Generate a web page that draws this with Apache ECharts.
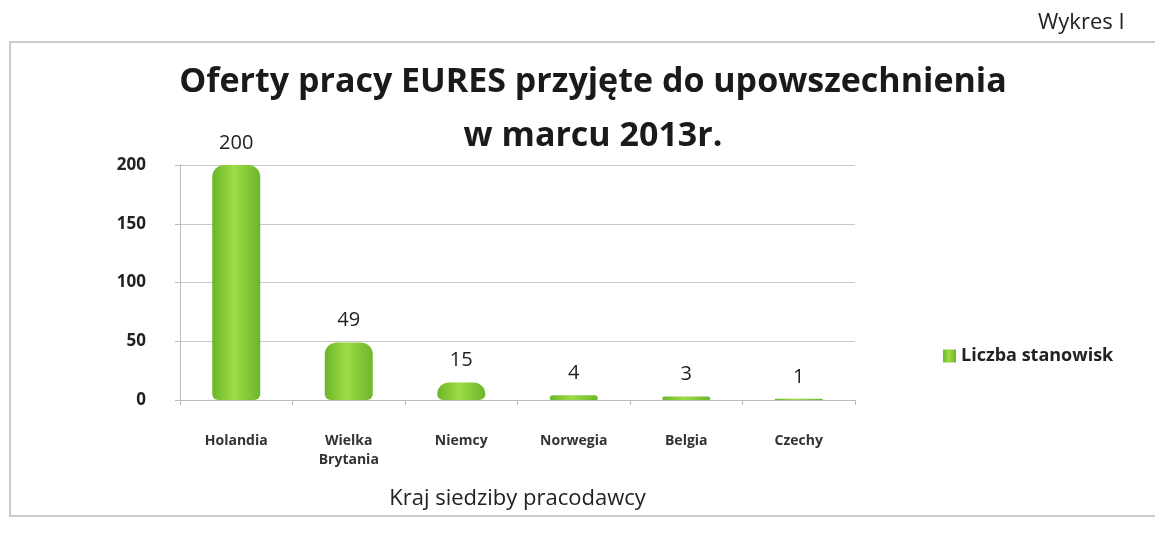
<!DOCTYPE html>
<html>
<head>
<meta charset="utf-8">
<script src="https://cdn.jsdelivr.net/npm/echarts@6/dist/echarts.min.js"></script>
<style>
  html, body { margin: 0; padding: 0; background: #fff; }
  #chart { width: 1155px; height: 537px; }
</style>
</head>
<body>
<div id="chart"></div>
<script>
const categories = ['Holandia', 'Wielka\nBrytania', 'Niemcy', 'Norwegia', 'Belgia', 'Czechy'];
const counts = [200, 49, 15, 4, 3, 1];
const yTicks = [0, 50, 100, 150, 200];

const chart = echarts.init(document.getElementById('chart'));

// cylinder look: darker edges, lighter middle
const barColor = new echarts.graphic.LinearGradient(0, 0, 1, 0, [
  { offset: 0, color: '#6cb62a' },
  { offset: 0.45, color: '#9ddc45' },
  { offset: 1, color: '#6cb62a' }
]);

chart.setOption({
  animation: false,
  backgroundColor: '#fff',
  title: {
    text: 'Oferty pracy EURES przyjęte do upowszechnienia\nw marcu 2013r.',
    left: 588,
    top: 50,
    textAlign: 'center',
    textStyle: {
      fontFamily: 'Open Sans',
      fontSize: 34,
      fontWeight: 'bold',
      color: '#1a1a1a',
      lineHeight: 54
    }
  },
  legend: {
    data: ['Liczba stanowisk'],
    left: 938,
    top: 342,
    itemWidth: 13,
    itemHeight: 13,
    icon: 'rect',
    itemGap: 6,
    textStyle: { fontFamily: 'Open Sans', fontSize: 18, fontWeight: 'bold', color: '#222' }
  },
  grid: { left: 180, right: 300, top: 165, bottom: 137 },
  xAxis: {
    type: 'category',
    data: categories,
    name: 'Kraj siedziby pracodawcy',
    nameLocation: 'middle',
    nameGap: 88,
    nameTextStyle: { fontFamily: 'Open Sans', fontSize: 22, color: '#222' },
    axisLine: { lineStyle: { color: '#bbb' } },
    axisTick: { show: true, lineStyle: { color: '#bbb' } },
    axisLabel: {
      margin: 32,
      fontFamily: 'Open Sans',
      fontSize: 14,
      fontWeight: 'bold',
      color: '#333',
      lineHeight: 19
    }
  },
  yAxis: {
    type: 'value',
    min: yTicks[0],
    max: yTicks[yTicks.length - 1],
    interval: 50,
    axisLine: { show: true, lineStyle: { color: '#bbb' } },
    axisTick: { show: true, lineStyle: { color: '#bbb' } },
    splitLine: { lineStyle: { color: '#c8c8c8' } },
    axisLabel: {
      margin: 34,
      fontFamily: 'Open Sans',
      fontSize: 17,
      fontWeight: 'bold',
      color: '#222'
    }
  },
  series: [{
    name: 'Liczba stanowisk',
    type: 'bar',
    data: counts,
    barWidth: 48,
    itemStyle: { color: barColor, borderRadius: [12, 12, 6, 6] },
    label: {
      show: true,
      position: 'top',
      distance: 12,
      fontFamily: 'Open Sans',
      fontSize: 20,
      color: '#222'
    }
  }],
  graphic: [
    {
      type: 'text',
      left: 1038,
      top: 12,
      style: { text: 'Wykres I', fontFamily: 'Open Sans', fontSize: 22, fill: '#222' }
    },
    {
      type: 'rect',
      shape: { x: 10, y: 42, width: 1160, height: 474 },
      style: { fill: 'none', stroke: '#bbb', lineWidth: 1.5 }
    }
  ]
});
</script>
</body>
</html>
